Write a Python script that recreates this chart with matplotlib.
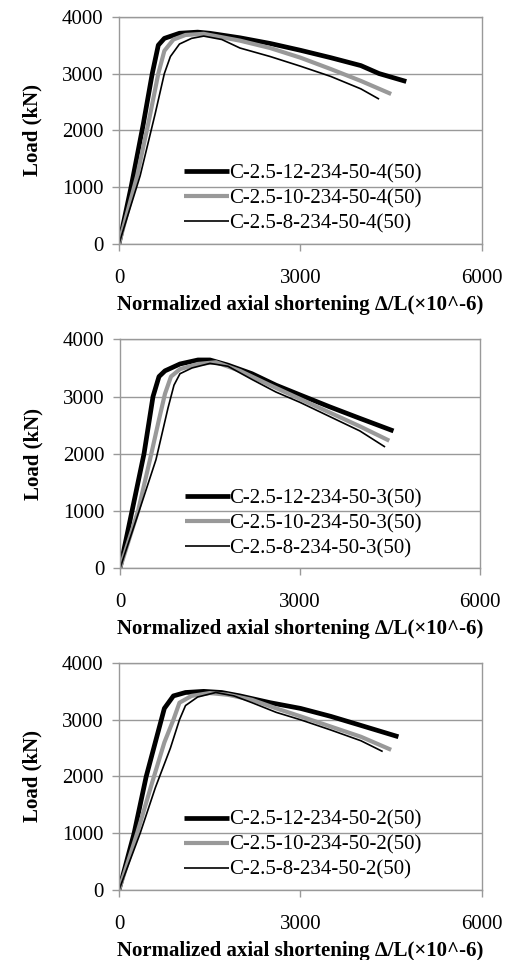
import numpy as np
import matplotlib.pyplot as plt

plt.rcParams['font.family'] = ['Liberation Serif', 'DejaVu Serif']

# top panel: spacing 4
top_labels = ["C-2.5-12-234-50-4(50)", "C-2.5-10-234-50-4(50)", "C-2.5-8-234-50-4(50)"]
top_x12 = [0, 200, 400, 550, 650, 750, 1000, 1300, 1500, 2000, 2500, 3000, 3500, 4000, 4300, 4750]
top_y12 = [0, 1000, 2100, 3000, 3500, 3620, 3710, 3730, 3710, 3630, 3530, 3410, 3280, 3140, 3000, 2860]
top_x10 = [0, 300, 500, 650, 750, 900, 1100, 1400, 2000, 2500, 3000, 3500, 4000, 4500]
top_y10 = [0, 1200, 2200, 3000, 3400, 3600, 3680, 3700, 3580, 3450, 3280, 3080, 2870, 2640]
top_x8 = [0, 350, 600, 750, 850, 1000, 1200, 1400, 1700, 2000, 2500, 3000, 3500, 4000, 4300]
top_y8 = [0, 1200, 2300, 3000, 3300, 3520, 3620, 3660, 3600, 3450, 3300, 3130, 2950, 2730, 2550]

# middle panel: spacing 3
mid_labels = ["C-2.5-12-234-50-3(50)", "C-2.5-10-234-50-3(50)", "C-2.5-8-234-50-3(50)"]
mid_x12 = [0, 200, 400, 550, 650, 750, 1000, 1300, 1500, 1800, 2200, 2600, 3000, 3500, 4000, 4560]
mid_y12 = [0, 1000, 2000, 3000, 3350, 3450, 3570, 3640, 3640, 3550, 3400, 3200, 3030, 2820, 2620, 2400]
mid_x10 = [0, 300, 500, 650, 750, 850, 1000, 1300, 1600, 2000, 2500, 3000, 3500, 4000, 4490]
mid_y10 = [0, 1000, 1900, 2600, 3050, 3350, 3480, 3570, 3600, 3450, 3200, 2960, 2720, 2480, 2230]
mid_x8 = [0, 350, 600, 800, 900, 1000, 1200, 1500, 1800, 2200, 2600, 3000, 3500, 4000, 4420]
mid_y8 = [0, 1100, 1900, 2800, 3200, 3400, 3500, 3580, 3530, 3300, 3080, 2900, 2650, 2400, 2120]

# bottom panel: spacing 2
bot_labels = ["C-2.5-12-234-50-2(50)", "C-2.5-10-234-50-2(50)", "C-2.5-8-234-50-2(50)"]
bot_x12 = [0, 250, 450, 650, 750, 900, 1100, 1400, 1700, 2000, 2500, 3000, 3500, 4000, 4620]
bot_y12 = [0, 1000, 2000, 2800, 3200, 3420, 3480, 3500, 3480, 3420, 3300, 3200, 3060, 2900, 2700]
bot_x10 = [0, 300, 550, 750, 900, 1000, 1200, 1500, 1800, 2200, 2600, 3000, 3500, 4000, 4500]
bot_y10 = [0, 1000, 1900, 2600, 3000, 3300, 3420, 3470, 3440, 3350, 3200, 3060, 2880, 2700, 2470]
bot_x8 = [0, 350, 600, 850, 1000, 1100, 1300, 1600, 1900, 2200, 2600, 3000, 3500, 4000, 4360]
bot_y8 = [0, 1000, 1800, 2500, 3000, 3250, 3400, 3480, 3420, 3300, 3130, 3000, 2820, 2630, 2440]

panels = [
    (top_labels, [(top_x12, top_y12), (top_x10, top_y10), (top_x8, top_y8)]),
    (mid_labels, [(mid_x12, mid_y12), (mid_x10, mid_y10), (mid_x8, mid_y8)]),
    (bot_labels, [(bot_x12, bot_y12), (bot_x10, bot_y10), (bot_x8, bot_y8)]),
]
rects = [
    [0.2315, 0.746, 0.706, 0.2365],
    [0.2335, 0.408, 0.700, 0.2385],
    [0.2315, 0.0729, 0.706, 0.2365],
]
styles = [("black", 3.4), ("#999999", 3.0), ("black", 1.2)]

fig = plt.figure(figsize=(5.14, 9.6), dpi=100)

for rect, (labels, series) in zip(rects, panels):
    ax = fig.add_axes(rect)
    for (x, y), (c, lw), lab in zip(series, styles, labels):
        ax.plot(x, y, color=c, lw=lw, label=lab, solid_capstyle='butt')
    ax.set_xlim(0, 6000)
    ax.set_ylim(0, 4000)
    ax.set_xticks([0, 3000, 6000])
    ax.set_yticks([0, 1000, 2000, 3000, 4000])
    ax.yaxis.grid(True, color='#999999', lw=1)
    ax.set_axisbelow(True)
    for s in ax.spines.values():
        s.set_color('#999999')
        s.set_linewidth(1)
    ax.tick_params(axis='both', colors='#999999', length=5, width=1,
                   labelcolor='black', labelsize=15)
    ax.tick_params(axis='x', pad=13)
    ax.tick_params(axis='y', pad=6)
    ax.set_xlabel("Normalized axial shortening \u2206/L(\u00d710^-6)",
                  fontsize=15, fontweight='bold', labelpad=5)
    ax.set_ylabel("Load (kN)", fontsize=15, fontweight='bold', labelpad=14)
    ax.legend(loc='lower left', bbox_to_anchor=(0.18, 0.045), frameon=False,
              fontsize=15, handlelength=2.15, handletextpad=0.0,
              labelspacing=0.26, borderaxespad=0.0, borderpad=0.0)

fig.savefig("out.png", dpi=100)
